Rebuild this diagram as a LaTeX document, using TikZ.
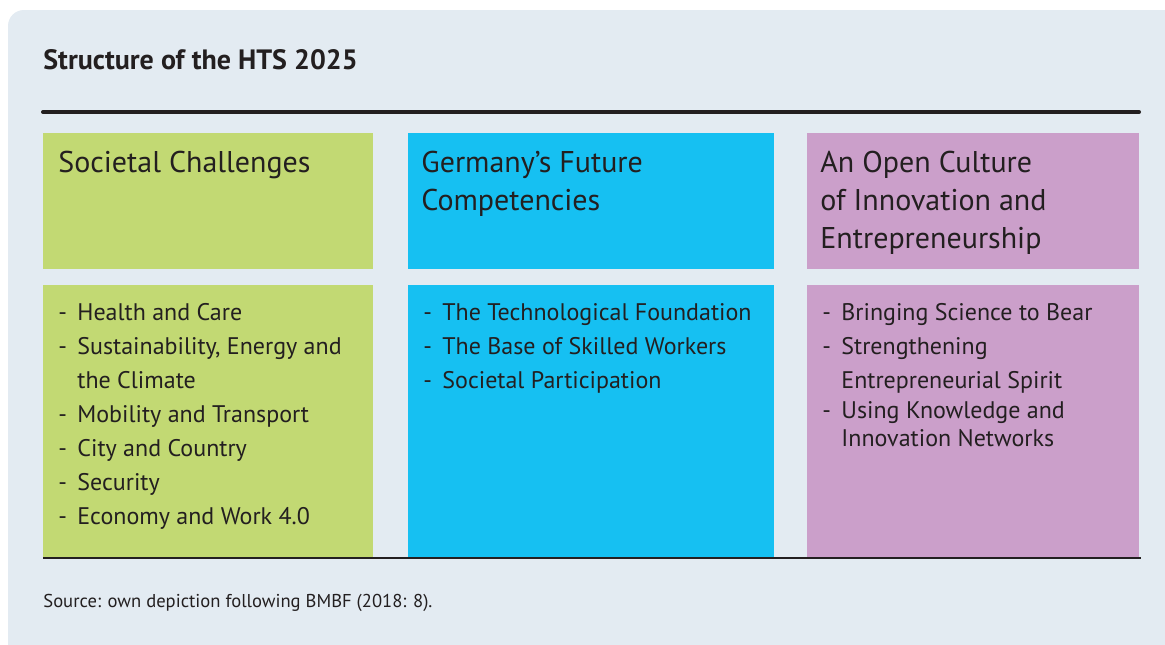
\documentclass[tikz,border=0pt]{standalone}
\usepackage{fontspec}
\setmainfont{PT Sans}
\usetikzlibrary{positioning}
\definecolor{panelbg}{HTML}{E3EBF2}
\definecolor{sgreen}{HTML}{C2D973}
\definecolor{fblue}{HTML}{16C0F2}
\definecolor{cpurple}{HTML}{CB9FCA}
\definecolor{inkdark}{HTML}{231F20}
\tikzset{
  colbox/.style={anchor=north west,inner sep=0pt,outer sep=0pt},
  headtext/.style={anchor=north west,inner sep=0pt,align=left,text=inkdark,
    font=\fontsize{15}{19}\selectfont},
  itemtext/.style={anchor=north west,inner sep=0pt,align=left,text=inkdark,
    font=\fontsize{12}{17}\selectfont},
}
\newcommand{\hitem}{\makebox[9.5pt][l]{-}}
\newcommand{\hcont}{\hspace*{9.5pt}}

\begin{document}
\begin{tikzpicture}[x=0.5pt,y=-0.5pt]
\useasboundingbox (0,0) rectangle (1165,644);
\fill[white] (0,0) rectangle (1165,644);
\fill[panelbg,rounded corners=8pt] (8,10) rectangle (1190,680);
%
\node (title) [anchor=base west,inner sep=0pt,text=inkdark,font=\bfseries\fontsize{14}{18}\selectfont] at (43,69) {Structure of the HTS 2025};
\draw[line width=2pt,inkdark,line cap=round] (43,112) -- (1139,112);
%
% header boxes
\node (sochead) [colbox,fill=sgreen,minimum width=165pt,minimum height=68pt] at (43,133) {};
\node (futhead) [colbox,fill=fblue,minimum width=183pt,minimum height=68pt] at (408,133) {};
\node (cultead) [colbox,fill=cpurple,minimum width=166pt,minimum height=68pt] at (807,133) {};
% body boxes
\node (socbody) [colbox,fill=sgreen,minimum width=165pt,minimum height=136pt] at (43,285) {};
\node (futbody) [colbox,fill=fblue,minimum width=183pt,minimum height=136pt] at (408,285) {};
\node (culbody) [colbox,fill=cpurple,minimum width=166pt,minimum height=136pt] at (807,285) {};
\draw[line width=0.8pt,inkdark] (43,558) -- (1141,558);
%
\node (soctitle) [headtext] at ([shift={(15,17.4)}]sochead.north west) {Societal Challenges};
\node (futtitle) [headtext] at ([shift={(13,17.4)}]futhead.north west) {Germany’s Future\\Competencies};
\node (cultitle) [headtext] at ([shift={(13,17.4)}]cultead.north west) {An Open Culture\\of Innovation and\\Entrepreneurship};
%
\node (socitems) [itemtext] at ([shift={(15,18)}]socbody.north west) {\hitem Health and Care\\\hitem Sustainability, Energy and\\\hcont the Climate\\\hitem Mobility and Transport\\\hitem City and Country\\\hitem Security\\\hitem Economy and Work 4.0};
\node (futitems) [itemtext] at ([shift={(15,18)}]futbody.north west) {\hitem The Technological Foundation\\\hitem The Base of Skilled Workers\\\hitem Societal Participation};
\node (culitems) [itemtext] at ([shift={(15,18)}]culbody.north west) {\hitem Bringing Science to Bear\\\hitem Strengthening\\\hcont Entrepreneurial Spirit\\[-2pt]\hitem Using Knowledge and\\[-3pt]\hcont Innovation Networks};
%
\node (source) [anchor=base west,inner sep=0pt,text=inkdark,font=\fontsize{9.3}{12}\selectfont] at (43,607) {Source: own depiction following BMBF (2018: 8).};
\end{tikzpicture}
\end{document}
